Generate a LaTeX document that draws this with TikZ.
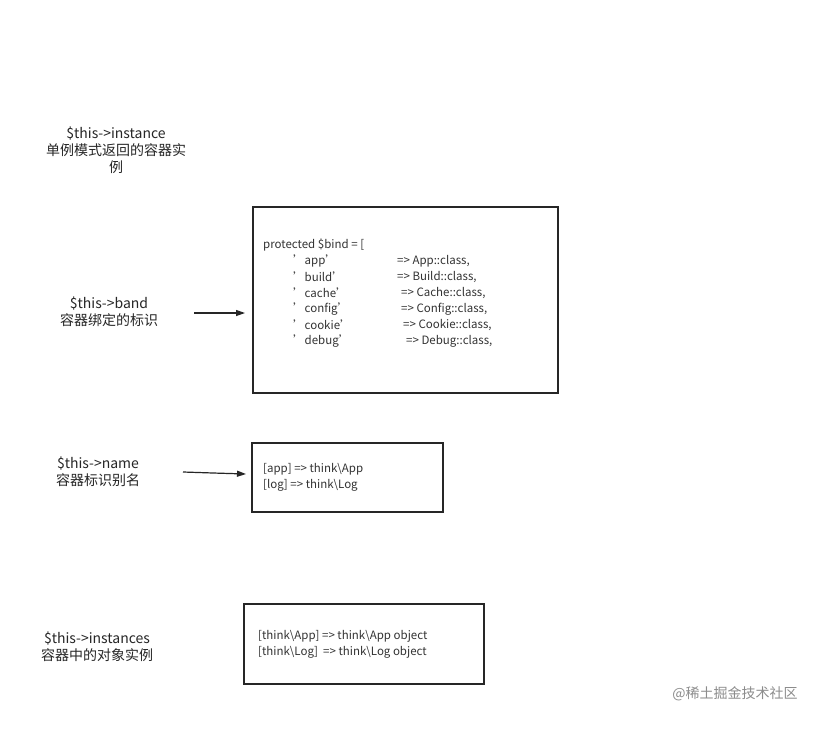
\documentclass[tikz,border=0pt]{standalone}
\usepackage{fontspec}
\setmainfont{Noto Sans CJK SC}
\usetikzlibrary{arrows.meta}
\begin{document}
\begin{tikzpicture}[x=1pt,y=-1pt,
 box/.style={draw=black!85,line width=1.4pt},
 lbl/.style={font=\fontsize{14}{17}\selectfont,text=black!85,align=center},
 code/.style={font=\fontsize{11.5}{16}\selectfont,text=black!80,anchor=west,inner sep=0pt},
 arr/.style={draw=black!85,line width=1.2pt,-{Triangle[length=9pt,width=6pt]}}]
\useasboundingbox[fill=white] (0,0) rectangle (840,728);
\node[lbl] (inst) at (116,150) {\$this->instance\\单例模式返回的容器实\\例};
\node[lbl] (band) at (109,312) {\$this->band\\容器绑定的标识};
\node[lbl] (name) at (98,472) {\$this->name\\容器标识别名};
\node[lbl] (insts) at (97,647) {\$this->instances\\容器中的对象实例};
\draw[box] (253,207) rectangle (558,393);
\coordinate (bindw) at (245,313);
\node[code] (b0) at (263,245) {protected \$bind = [};
\foreach \k/\v/\ax/\y in {'app'/App/397/261,'build'/Build/397/277,'cache'/Cache/401/293,'config'/Config/401/309,'cookie'/Cookie/403/325,'debug'/Debug/406/341}{
 \node[code] at (293,\y) {\k};
 \node[code] at (\ax,\y) {=> \v::class,};
}
\draw[box] (252,443) rectangle (443,512);
\node[code,align=left] (n1) at (263,477) {[app] => think\textbackslash App\\{}[log] => think\textbackslash Log};
\draw[box] (244,604) rectangle (484,684);
\node[code,align=left] (i1) at (258,644) {[think\textbackslash App] => think\textbackslash App object\\{}[think\textbackslash Log]\ \ => think\textbackslash Log object};
\coordinate (bs) at (194,313);
\draw[arr] (bs) -- (bindw);
\coordinate (ns) at (183,472);
\coordinate (nm) at (213,473);
\coordinate (ne) at (246,474);
\draw[arr] (ns) -- (nm) -- (ne);
\node[font=\fontsize{14}{17}\selectfont,text=black!45] (wm) at (735,694) {@稀土掘金技术社区};
\end{tikzpicture}
\end{document}
